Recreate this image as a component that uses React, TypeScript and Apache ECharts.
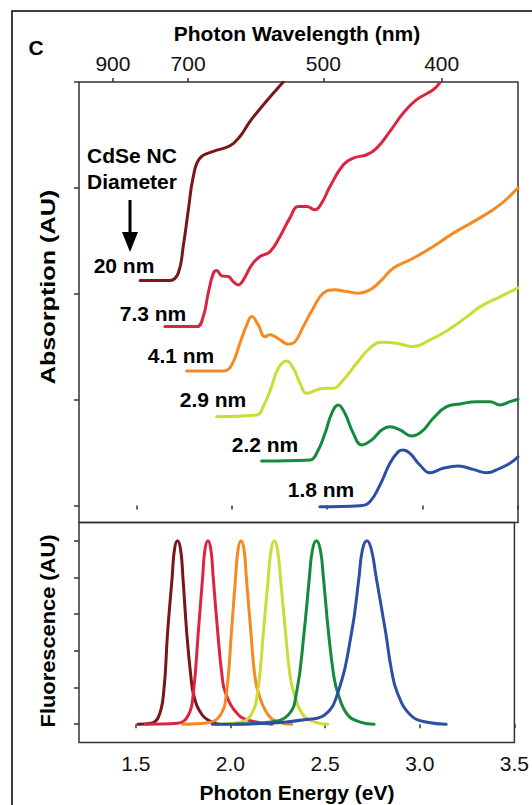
import React, { useEffect, useRef } from "react";
import * as echarts from "echarts";

const FONT = '"Liberation Sans", Arial, Helvetica, sans-serif';

// Axis ticks
const energyTicks = [1.5, 2.0, 2.5, 3.0, 3.5];
const wavelengthTicks = [900, 700, 500, 400];
const absorptionTicks = [0, 1, 2, 3, 4];
const fluorescenceTicks = [0, 0.2, 0.4, 0.6, 0.8, 1.0];

// Nanocrystal sizes and colours
const sizes = ["20 nm", "7.3 nm", "4.1 nm", "2.9 nm", "2.2 nm", "1.8 nm"];
const colors = ["#7a1518", "#dc2342", "#f58a20", "#cbdc34", "#168a3c", "#2d4ea8"];

// Absorption spectra (photon energy eV, offset absorbance AU)
const abs20 = [
  [1.52, 2.125], [1.677, 2.125], [1.72, 2.195], [1.746, 2.446], [1.773, 2.793],
  [1.799, 3.108], [1.834, 3.282], [1.904, 3.344], [1.991, 3.398], [2.043, 3.486],
  [2.096, 3.628], [2.166, 3.785], [2.27, 4.0],
];
const abs73 = [
  [1.65, 1.69], [1.817, 1.69], [1.851, 1.785], [1.877, 2.006], [1.904, 2.195],
  [1.921, 2.221], [1.948, 2.169], [1.982, 2.163], [2.008, 2.115], [2.035, 2.084],
  [2.061, 2.131], [2.105, 2.273], [2.148, 2.352], [2.2, 2.396], [2.253, 2.541],
  [2.305, 2.717], [2.349, 2.824], [2.393, 2.824], [2.436, 2.793], [2.471, 2.856],
  [2.515, 3.013], [2.585, 3.218], [2.637, 3.282], [2.707, 3.313], [2.76, 3.376],
  [2.829, 3.533], [2.899, 3.707], [2.969, 3.833], [3.056, 3.927], [3.091, 3.993],
];
const abs41 = [
  [1.764, 1.271], [1.956, 1.271], [2.0, 1.328], [2.043, 1.533], [2.079, 1.706],
  [2.105, 1.785], [2.139, 1.706], [2.174, 1.595], [2.2, 1.612], [2.227, 1.595],
  [2.258, 1.56], [2.296, 1.524], [2.332, 1.548], [2.375, 1.69], [2.427, 1.864],
  [2.48, 2.006], [2.541, 2.037], [2.602, 2.021], [2.663, 2.006], [2.724, 2.037],
  [2.786, 2.131], [2.846, 2.242], [2.951, 2.336], [3.056, 2.446], [3.161, 2.573],
  [3.283, 2.698], [3.405, 2.84], [3.5, 3.001],
];
const abs29 = [
  [1.921, 0.839], [2.131, 0.855], [2.165, 0.934], [2.209, 1.123], [2.244, 1.297],
  [2.288, 1.366], [2.323, 1.297], [2.358, 1.155], [2.393, 1.06], [2.445, 1.092],
  [2.489, 1.108], [2.532, 1.108], [2.585, 1.186], [2.655, 1.344], [2.724, 1.486],
  [2.786, 1.543], [2.864, 1.533], [2.951, 1.501], [3.039, 1.564], [3.126, 1.649],
  [3.231, 1.782], [3.301, 1.876], [3.405, 1.971], [3.5, 2.056],
];
const abs22 = [
  [2.157, 0.421], [2.41, 0.43], [2.445, 0.493], [2.489, 0.682], [2.524, 0.871],
  [2.558, 0.95], [2.593, 0.871], [2.637, 0.682], [2.681, 0.572], [2.733, 0.619],
  [2.786, 0.714], [2.829, 0.745], [2.882, 0.714], [2.943, 0.657], [2.995, 0.698],
  [3.056, 0.824], [3.126, 0.934], [3.196, 0.959], [3.283, 0.981], [3.353, 0.981],
  [3.405, 0.95], [3.458, 0.981], [3.5, 1.004],
];
const abs18 = [
  [2.462, -0.011], [2.672, -0.002], [2.724, 0.036], [2.777, 0.194], [2.829, 0.399],
  [2.873, 0.509], [2.899, 0.525], [2.934, 0.493], [2.986, 0.383], [3.039, 0.31],
  [3.108, 0.352], [3.187, 0.373], [3.265, 0.342], [3.336, 0.31], [3.405, 0.352],
  [3.458, 0.399], [3.5, 0.461],
];
const absorption = [abs20, abs73, abs41, abs29, abs22, abs18];

// Normalised fluorescence spectra (photon energy eV, intensity)
const fl20 = [
  [1.511, 0], [1.58, 0.005], [1.62, 0.04], [1.647, 0.17], [1.668, 0.5], [1.692, 0.8],
  [1.704, 0.95], [1.72, 1.0], [1.737, 0.95], [1.749, 0.8], [1.769, 0.5], [1.79, 0.27],
  [1.808, 0.15], [1.851, 0.05], [1.904, 0.01], [1.939, 0],
];
const fl73 = [
  [1.55, 0], [1.72, 0.005], [1.778, 0.05], [1.804, 0.17], [1.83, 0.5], [1.853, 0.8],
  [1.865, 0.95], [1.881, 1.0], [1.897, 0.95], [1.909, 0.8], [1.933, 0.5], [1.955, 0.27],
  [1.974, 0.17], [2.043, 0.05], [2.12, 0.015], [2.22, 0],
];
const fl41 = [
  [1.747, 0], [1.88, 0.008], [1.947, 0.05], [1.979, 0.17], [2.005, 0.5], [2.027, 0.8],
  [2.04, 0.95], [2.056, 1.0], [2.072, 0.95], [2.084, 0.8], [2.108, 0.5], [2.128, 0.27],
  [2.148, 0.17], [2.2, 0.05], [2.26, 0.01], [2.323, 0],
];
const fl29 = [
  [1.939, 0], [2.05, 0.01], [2.108, 0.05], [2.143, 0.17], [2.174, 0.5], [2.2, 0.8],
  [2.215, 0.95], [2.232, 1.0], [2.249, 0.95], [2.264, 0.8], [2.291, 0.5], [2.314, 0.27],
  [2.335, 0.17], [2.384, 0.05], [2.45, 0.01], [2.515, 0],
];
const fl22 = [
  [2.026, 0], [2.2, 0.01], [2.305, 0.05], [2.349, 0.17], [2.389, 0.5], [2.417, 0.8],
  [2.433, 0.95], [2.454, 1.0], [2.475, 0.95], [2.491, 0.8], [2.518, 0.5], [2.545, 0.27],
  [2.567, 0.17], [2.62, 0.05], [2.69, 0.01], [2.759, 0],
];
const fl18 = [
  [1.904, 0], [2.2, 0.005], [2.4, 0.025], [2.497, 0.05], [2.567, 0.17], [2.64, 0.5],
  [2.679, 0.8], [2.697, 0.95], [2.721, 1.0], [2.745, 0.95], [2.77, 0.8], [2.82, 0.5],
  [2.85, 0.3], [2.882, 0.17], [2.951, 0.05], [3.04, 0.01], [3.14, 0],
];
const fluorescence = [fl20, fl73, fl41, fl29, fl22, fl18];

// Size-label anchor positions (annotation layout)
const labelPos = [
  [124, 265], [153, 313], [181, 355], [213, 399], [265, 444], [321, 489],
];

const AXIS = "#333";

export default function App() {
  const ref = useRef<HTMLDivElement>(null);

  useEffect(() => {
    if (!ref.current) return;
    const chart = echarts.init(ref.current, undefined, { renderer: "svg" });

    const boldText = (text: string, x: number, y: number, extra: any = {}) => ({
      type: "text",
      x,
      y,
      ...extra,
      style: {
        text,
        fill: "#000",
        font: `bold 21px ${FONT}`,
        align: "center",
        verticalAlign: "middle",
        textAlign: "center",
        textVerticalAlign: "middle",
      },
    });

    const graphics: any[] = [
      {
        type: "rect",
        shape: { x: 12, y: 11, width: 540, height: 820 },
        style: { fill: "none", stroke: "#000", lineWidth: 1.5 },
        silent: true,
      },
      boldText("C", 36, 47),
      boldText("Photon Wavelength (nm)", 297, 33),
      boldText("Photon Energy (eV)", 297, 792),
      boldText("Absorption (AU)", 48, 287, { rotation: Math.PI / 2, scaleX: 1.2 }),
      boldText("Fluorescence (AU)", 48, 631, { rotation: Math.PI / 2, scaleX: 1.04 }),
      boldText("CdSe NC", 132, 155),
      boldText("Diameter", 132, 181),
      {
        type: "line",
        shape: { x1: 130, y1: 200, x2: 130, y2: 236 },
        style: { stroke: "#000", lineWidth: 3 },
      },
      {
        type: "polygon",
        shape: { points: [[122, 232], [138, 232], [130, 252]] },
        style: { fill: "#000" },
      },
      ...sizes.map((s, i) => boldText(s, labelPos[i][0], labelPos[i][1])),
    ];

    const tickStyle = { color: AXIS, width: 1.5 };

    const option: any = {
      animation: false,
      backgroundColor: "#fff",
      textStyle: { fontFamily: FONT },
      grid: [
        {
          left: 79, right: 14, top: 82, height: 440.5,
          show: true, borderColor: AXIS, borderWidth: 1.5,
        },
        {
          left: 79, right: 14, top: 522.5, height: 220,
          show: true, borderColor: AXIS, borderWidth: 1.5,
        },
      ],
      xAxis: [
        {
          type: "value", gridIndex: 0, position: "bottom", min: 1.2, max: 3.5,
          axisLine: { show: false },
          axisTick: { show: true, customValues: energyTicks, length: 4, lineStyle: tickStyle },
          axisLabel: { show: false },
          splitLine: { show: false },
        },
        {
          type: "value", gridIndex: 0, position: "top", min: 1.2, max: 3.5,
          axisLine: { show: false },
          axisTick: {
            show: true,
            customValues: wavelengthTicks.map((w) => 1240 / w),
            length: 4,
            lineStyle: tickStyle,
          },
          axisLabel: {
            show: true,
            customValues: wavelengthTicks.map((w) => 1240 / w),
            formatter: (v: number) => String(Math.round(1240 / v)),
            fontSize: 21,
            color: "#111",
            fontFamily: FONT,
            margin: 8,
          },
          splitLine: { show: false },
        },
        {
          type: "value", gridIndex: 1, position: "bottom", min: 1.2, max: 3.5,
          axisLine: { show: false },
          axisTick: { show: true, customValues: energyTicks, length: 4, lineStyle: tickStyle },
          axisLabel: {
            show: true,
            customValues: energyTicks,
            formatter: (v: number) => v.toFixed(1),
            fontSize: 21,
            color: "#111",
            fontFamily: FONT,
            margin: 10,
          },
          splitLine: { show: false },
        },
      ],
      yAxis: [
        {
          type: "value", gridIndex: 0, min: -0.16, max: 4,
          axisLine: { show: false },
          axisTick: { show: true, customValues: absorptionTicks, length: 5, lineStyle: tickStyle },
          axisLabel: { show: false },
          splitLine: { show: false },
        },
        {
          type: "value", gridIndex: 1, min: -0.1, max: 1.1,
          axisLine: { show: false },
          axisTick: { show: true, customValues: fluorescenceTicks, length: 5, lineStyle: tickStyle },
          axisLabel: { show: false },
          splitLine: { show: false },
        },
      ],
      series: [
        ...absorption.map((d, i) => ({
          name: `Absorption ${sizes[i]}`,
          type: "line",
          xAxisIndex: 0,
          yAxisIndex: 0,
          data: d,
          showSymbol: false,
          smooth: 0.45,
          clip: true,
          lineStyle: { color: colors[i], width: 3, cap: "round", join: "round" },
        })),
        ...fluorescence.map((d, i) => ({
          name: `Fluorescence ${sizes[i]}`,
          type: "line",
          xAxisIndex: 2,
          yAxisIndex: 1,
          data: d,
          showSymbol: false,
          smooth: 0.45,
          clip: true,
          lineStyle: { color: colors[i], width: 3, cap: "round", join: "round" },
        })),
      ],
      graphic: graphics,
    };

    chart.setOption(option);
    return () => chart.dispose();
  }, []);

  return (
    <div
      ref={ref}
      style={{ position: "fixed", left: 0, top: 0, width: 532, height: 805, background: "#fff" }}
    />
  );
}
